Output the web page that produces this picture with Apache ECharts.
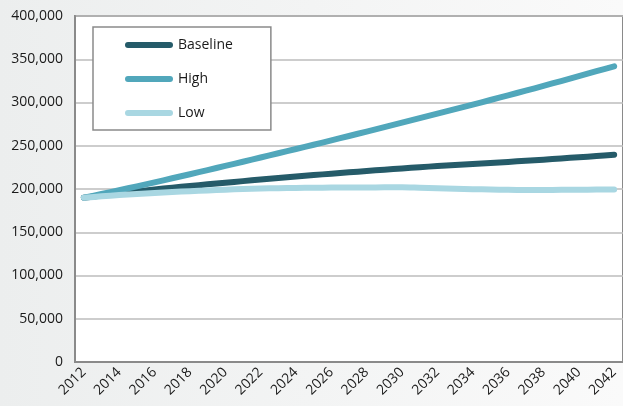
<!DOCTYPE html>
<html>
<head>
<meta charset="utf-8">
<script src="https://cdn.jsdelivr.net/npm/echarts@6/dist/echarts.min.js"></script>
<style>
  html, body { margin: 0; padding: 0; }
  #chart { width: 623px; height: 406px; }
</style>
</head>
<body>
<div id="chart"></div>
<script>
// Projection years
const years = [
  '2012','2013','2014','2015','2016','2017','2018','2019','2020','2021',
  '2022','2023','2024','2025','2026','2027','2028','2029','2030','2031',
  '2032','2033','2034','2035','2036','2037','2038','2039','2040','2041','2042'
];

// Projected totals per scenario
const baseline = [
  190000,192500,194900,197200,199400,201500,203500,205400,207300,209100,
  210900,212700,214400,216100,217700,219300,220800,222300,223800,225200,
  226500,227700,228900,230100,231300,232600,233900,235300,236700,238100,239600
];
const high = [
  190000,194200,198600,203100,207700,212400,217100,221900,226700,231500,
  236400,241300,246200,251200,256200,261300,266400,271500,276700,281900,
  287100,292300,297600,302900,308300,313700,319200,324800,330500,336300,341800
];
const low = [
  190000,191500,193000,194200,195400,196500,197500,198400,199200,200000,
  200600,201000,201300,201500,201600,201700,201800,201900,202000,201400,
  200800,200300,199800,199400,199100,198900,198900,199000,199100,199300,199500
];

const seriesNames = ['Baseline', 'High', 'Low'];
const seriesColors = ['#255b69', '#51a7bb', '#a9d7e2'];

const FONT = 'Open Sans';
const capsule = 'path://M3,0 L45,0 A3,3 0 0 1 45,6 L3,6 A3,3 0 0 1 3,0 Z';

const chart = echarts.init(document.getElementById('chart'), null, { renderer: 'canvas' });

function lineSeries(name, data, color) {
  return {
    name: name,
    type: 'line',
    data: data,
    showSymbol: false,
    symbol: 'none',
    smooth: 0.3,
    lineStyle: { color: color, width: 6, cap: 'round', join: 'round' },
    itemStyle: { color: color },
    emphasis: { disabled: true },
    animation: false
  };
}

chart.setOption({
  backgroundColor: {
    type: 'linear', x: 0, y: 0, x2: 1, y2: 0,
    colorStops: [
      { offset: 0, color: '#eceeee' },
      { offset: 1, color: '#fafafa' }
    ]
  },
  animation: false,
  grid: {
    left: 75, top: 16, width: 550, bottom: 44,
    show: true,
    backgroundColor: '#ffffff',
    borderColor: '#8a8a8a',
    borderWidth: 2,
    containLabel: false
  },
  legend: {
    orient: 'vertical',
    left: 93, top: 27,
    data: seriesNames,
    icon: capsule,
    itemWidth: 48, itemHeight: 6,
    itemGap: 18,
    padding: [10, 38, 9, 32],
    backgroundColor: '#ffffff',
    borderColor: '#8a8a8a',
    borderWidth: 1.5,
    borderRadius: 0,
    selectedMode: false,
    textStyle: { fontFamily: FONT, fontSize: 14, color: '#1a1a1a', lineHeight: 16, padding: [0, 0, 0, 0] }
  },
  xAxis: {
    type: 'category',
    data: years,
    boundaryGap: true,
    axisLine: { show: true, lineStyle: { color: '#8a8a8a', width: 2 } },
    axisTick: { show: false },
    axisLabel: {
      interval: 1,
      rotate: 45,
      margin: 8,
      fontFamily: FONT,
      fontSize: 14,
      color: '#1a1a1a'
    },
    splitLine: { show: false }
  },
  yAxis: {
    type: 'value',
    min: 0, max: 400000, interval: 50000,
    axisLine: { show: true, lineStyle: { color: '#8a8a8a', width: 2 } },
    axisTick: { show: false },
    axisLabel: {
      margin: 12,
      fontFamily: FONT,
      fontSize: 14,
      color: '#1a1a1a',
      formatter: v => v.toLocaleString('en-US')
    },
    splitLine: { show: true, lineStyle: { color: '#bdbdbd', width: 1.5 } }
  },
  series: [
    lineSeries(seriesNames[0], baseline, seriesColors[0]),
    lineSeries(seriesNames[1], high, seriesColors[1]),
    lineSeries(seriesNames[2], low, seriesColors[2])
  ]
});
</script>
</body>
</html>
